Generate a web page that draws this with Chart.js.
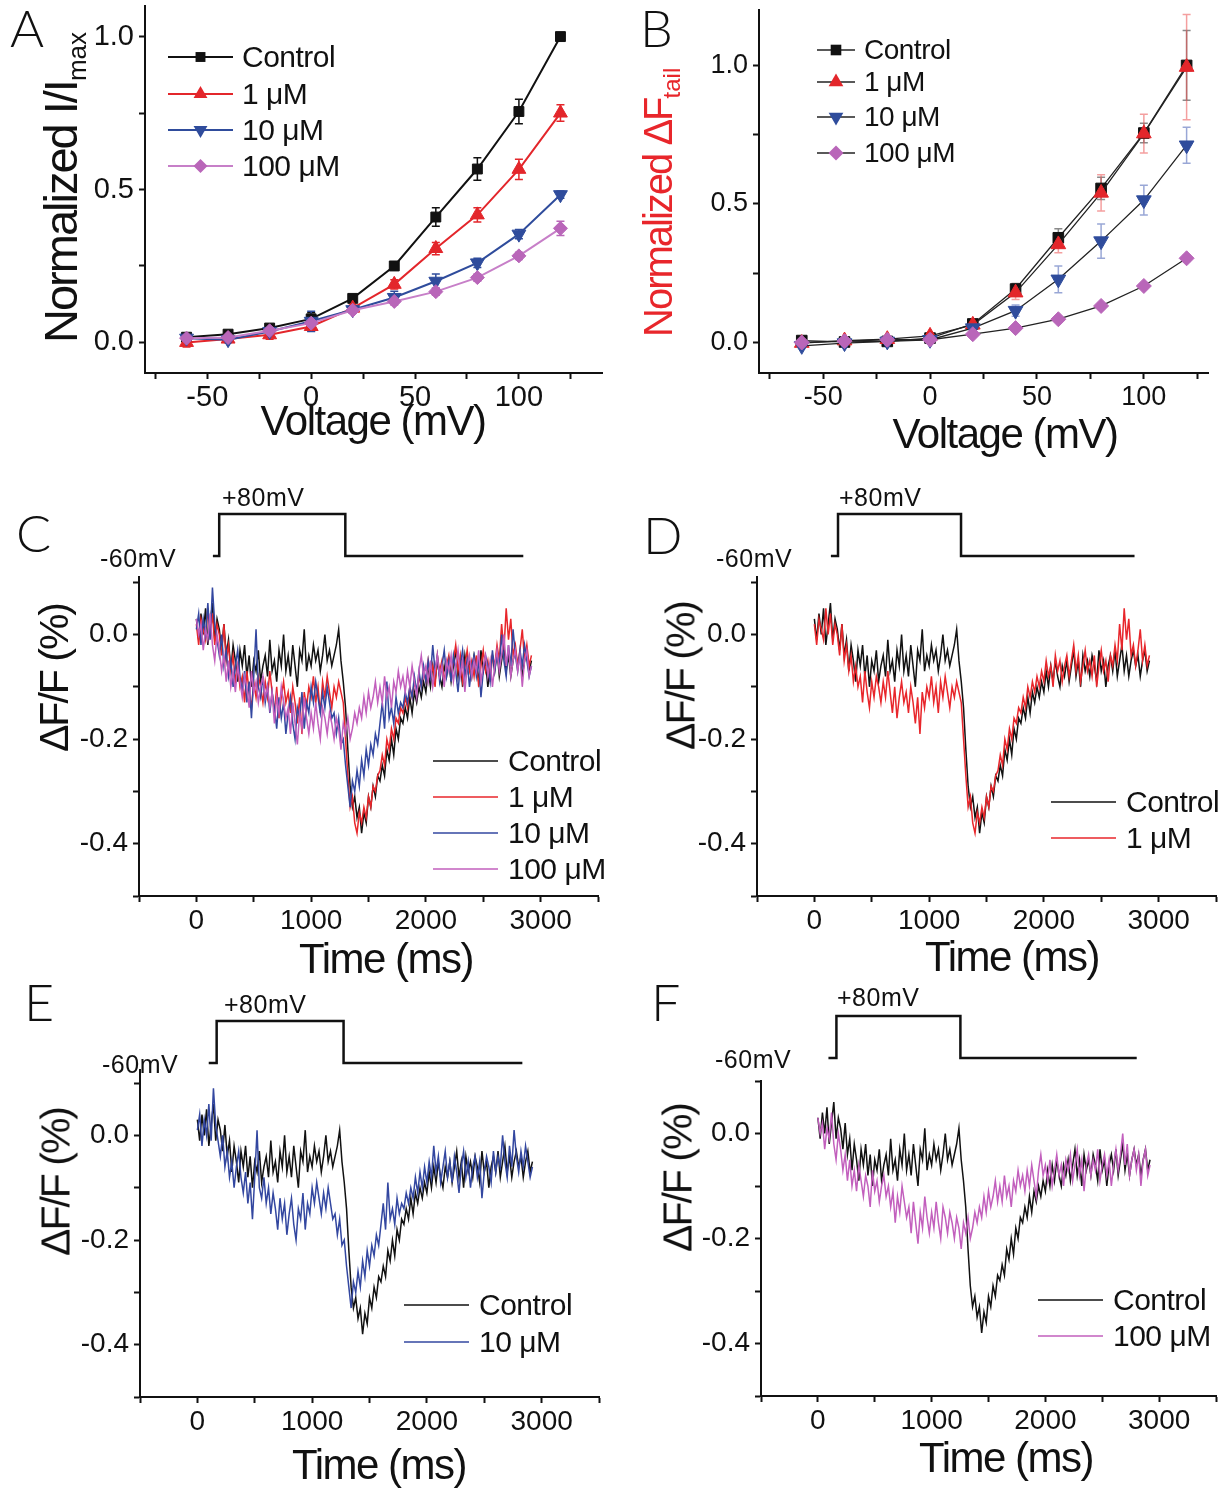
<!DOCTYPE html>
<html>
<head>
<meta charset="utf-8">
<script src="https://cdn.jsdelivr.net/npm/chart.js@4.4.1/dist/chart.umd.min.js"></script>
<style>
  body { margin: 0; background: #fff; }
  #fig { position: relative; width: 1224px; height: 1493px; overflow: hidden; background: #fff;
         font-family: "Liberation Sans", Arial, sans-serif; color: #111; }
  canvas { position: absolute; }
  .txt { position: absolute; white-space: nowrap; line-height: 1; z-index: 5; }
  .letter { font-family: Lato, "Liberation Sans", sans-serif; font-weight: 300; font-size: 52px; }
  .xt { font-size: 42px; letter-spacing: -1.5px; transform: translate(-50%, -50%); }
  .yt { font-size: 41px; letter-spacing: -2px; transform: translate(-50%, -50%) rotate(-90deg); }
  .ytA { font-size: 47px; letter-spacing: -2px; transform-origin: 0 0; transform: rotate(-90deg); }
  .proto { font-size: 25px; letter-spacing: 0.5px; }
  .row { position: absolute; display: flex; align-items: center; transform: translateY(-50%); z-index: 5; white-space: nowrap; }
  .row span { line-height: 1; letter-spacing: -0.5px; white-space: nowrap; }
</style>
</head>
<body>
<div id="fig">
  <canvas id="chartA"></canvas>
  <canvas id="chartB"></canvas>
  <canvas id="stepC"></canvas><canvas id="chartC"></canvas>
  <canvas id="stepD"></canvas><canvas id="chartD"></canvas>
  <canvas id="stepE"></canvas><canvas id="chartE"></canvas>
  <canvas id="stepF"></canvas><canvas id="chartF"></canvas>

  <div class="txt letter" style="left:10px;top:1px">A</div>
  <div class="txt letter" style="left:640px;top:1px">B</div>
  <div class="txt letter" style="left:16px;top:506px">C</div>
  <div class="txt letter" style="left:643px;top:508px">D</div>
  <div class="txt letter" style="left:24px;top:975px">E</div>
  <div class="txt letter" style="left:651px;top:975px">F</div>

  <div class="txt ytA" style="left:37px;top:343px">Normalized I/I<span style="font-size:26px;vertical-align:-0.35em;letter-spacing:0">max</span></div>
  <div class="txt ytA" style="left:638px;top:337px;font-size:40px;color:#e8262b">Normalized ΔF<span style="font-size:24px;vertical-align:-0.35em;letter-spacing:0">tail</span></div>
  <div class="txt xt" style="left:373px;top:421px">Voltage (mV)</div>
  <div class="txt xt" style="left:1005px;top:434px">Voltage (mV)</div>

  <div class="txt yt" style="left:54px;top:678px">ΔF/F (%)</div>
  <div class="txt yt" style="left:681px;top:676px">ΔF/F (%)</div>
  <div class="txt yt" style="left:56px;top:1182px">ΔF/F (%)</div>
  <div class="txt yt" style="left:678px;top:1178px">ΔF/F (%)</div>
  <div class="txt xt" style="left:386px;top:959px">Time (ms)</div>
  <div class="txt xt" style="left:1012px;top:957px">Time (ms)</div>
  <div class="txt xt" style="left:379px;top:1465px">Time (ms)</div>
  <div class="txt xt" style="left:1006px;top:1458px">Time (ms)</div>

  <div class="txt proto" style="left:222px;top:485px">+80mV</div>
  <div class="txt proto" style="left:100px;top:546px">-60mV</div>
  <div class="txt proto" style="left:839px;top:485px">+80mV</div>
  <div class="txt proto" style="left:716px;top:546px">-60mV</div>
  <div class="txt proto" style="left:224px;top:992px">+80mV</div>
  <div class="txt proto" style="left:102px;top:1052px">-60mV</div>
  <div class="txt proto" style="left:837px;top:985px">+80mV</div>
  <div class="txt proto" style="left:715px;top:1047px">-60mV</div>
</div>

<script>
// ---------- data ----------
const voltages = [-60, -40, -20, 0, 20, 40, 60, 80, 100, 120];
const seriesNames = ["Control", "1 μM", "10 μM", "100 μM"];

// A: normalized current
const currControl = [0.017, 0.027, 0.047, 0.077, 0.144, 0.25, 0.41, 0.567, 0.755, 1.0];
const curr1uM = [0.0, 0.011, 0.025, 0.052, 0.112, 0.19, 0.307, 0.417, 0.566, 0.75];
const curr10uM = [0.014, 0.009, 0.036, 0.069, 0.107, 0.147, 0.2, 0.26, 0.354, 0.483];
const curr100uM = [0.014, 0.016, 0.038, 0.063, 0.105, 0.134, 0.166, 0.212, 0.283, 0.373];
const currErrControl = [0.01, 0.01, 0.01, 0.02, 0.012, 0.012, 0.03, 0.037, 0.04, 0.0];
const currErr1uM = [0.015, 0.01, 0.015, 0.015, 0.01, 0.015, 0.02, 0.023, 0.033, 0.027];
const currErr10uM = [0.012, 0.01, 0.012, 0.033, 0.012, 0.02, 0.024, 0.015, 0.015, 0.012];
const currErr100uM = [0.01, 0.01, 0.012, 0.015, 0.01, 0.012, 0.012, 0.012, 0.012, 0.023];

// B: normalized tail fluorescence
const tailControl = [0.007, 0.002, 0.004, 0.016, 0.067, 0.193, 0.378, 0.556, 0.756, 1.0];
const tail1uM = [-0.002, 0.007, 0.012, 0.024, 0.064, 0.18, 0.354, 0.54, 0.754, 0.994];
const tail10uM = [-0.012, -0.002, 0.004, 0.01, 0.052, 0.115, 0.228, 0.366, 0.514, 0.712];
const tail100uM = [0.0, 0.005, 0.01, 0.01, 0.03, 0.052, 0.084, 0.132, 0.204, 0.304];
const tailErrControl = [0.01, 0.005, 0.005, 0.008, 0.012, 0.02, 0.033, 0.04, 0.035, 0.126];
const tailErr1uM = [0.008, 0.006, 0.008, 0.01, 0.015, 0.025, 0.03, 0.065, 0.07, 0.19];
const tailErr10uM = [0.01, 0.005, 0.005, 0.008, 0.012, 0.02, 0.048, 0.062, 0.054, 0.065];
const tailErr100uM = [0.005, 0.004, 0.004, 0.005, 0.008, 0.008, 0.01, 0.01, 0.01, 0.012];

// C-F: dF/F traces (%), one sample every 20 ms
const sampleMs = 20;
const traceControl = [
  0.03, -0.01, 0.04, 0.0, 0.05, -0.02, 0.02, 0.06, -0.01, 0.03,
  0.01, -0.03, 0.02, -0.04, -0.01, -0.07, -0.02, -0.05, -0.09, -0.03,
  -0.06, -0.02, -0.08, -0.04, -0.1, -0.05, -0.07, -0.03, -0.09, -0.06,
  -0.04, -0.08, -0.01, -0.07, -0.05, -0.09, -0.03, -0.06, 0.0, -0.07,
  -0.04, -0.08, -0.02, -0.06, -0.1, -0.03, -0.05, 0.01, -0.07, -0.04,
  -0.06, -0.02, -0.05, -0.03, -0.07, -0.04, 0.0, -0.05, -0.03, -0.06,
  -0.04, -0.02, 0.01, -0.05, -0.09, -0.14, -0.22, -0.29, -0.33, -0.31,
  -0.35, -0.33, -0.38, -0.34, -0.36, -0.31, -0.33, -0.29, -0.31, -0.27,
  -0.28, -0.25, -0.27, -0.22, -0.24, -0.2, -0.23, -0.18, -0.2, -0.16,
  -0.17, -0.14, -0.16, -0.12, -0.15, -0.11, -0.13, -0.1, -0.12, -0.09,
  -0.11, -0.07, -0.1, -0.06, -0.09, -0.05, -0.08, -0.1, -0.06, -0.08,
  -0.05, -0.09, -0.06, -0.03, -0.08, -0.05, -0.1, -0.04, -0.07, -0.05,
  -0.08, -0.04, -0.06, -0.09, -0.03, -0.07, -0.05, -0.1, -0.06, -0.04,
  -0.07, -0.03, -0.08, -0.05, -0.02, -0.07, -0.04, -0.08, -0.05, -0.03,
  -0.06, -0.04, -0.08, -0.05, -0.03, -0.07, -0.05
];
const trace1uM = [
  0.02, -0.02, 0.03, 0.01, -0.01, 0.05, 0.0, 0.04, -0.02, 0.02,
  0.0, -0.04, 0.02, -0.05, -0.02, -0.07, -0.04, -0.09, -0.06, -0.1,
  -0.08, -0.13, -0.07, -0.11, -0.14, -0.09, -0.12, -0.08, -0.1, -0.13,
  -0.09, -0.12, -0.07, -0.11, -0.15, -0.1, -0.16, -0.12, -0.09, -0.13,
  -0.11, -0.15, -0.1, -0.13, -0.17, -0.12, -0.19, -0.11, -0.14, -0.1,
  -0.12, -0.08, -0.13, -0.1, -0.15, -0.09, -0.12, -0.08, -0.11, -0.14,
  -0.1, -0.12, -0.09, -0.11, -0.13, -0.2, -0.27, -0.33, -0.31, -0.36,
  -0.38, -0.34, -0.36, -0.33, -0.35, -0.31, -0.33, -0.29, -0.3, -0.27,
  -0.26, -0.23, -0.25, -0.2, -0.22, -0.18, -0.2, -0.16, -0.17, -0.14,
  -0.15, -0.12, -0.14, -0.1, -0.12, -0.09, -0.11, -0.08, -0.1, -0.07,
  -0.09, -0.05, -0.08, -0.06, -0.1, -0.04, -0.07, -0.05, -0.09, -0.06,
  -0.04, -0.08, -0.05, -0.02, -0.07, -0.04, -0.09, -0.06, -0.03, -0.07,
  -0.05, -0.08, -0.04, -0.1, -0.06, -0.03, -0.07, -0.05, -0.09, -0.04,
  -0.06, -0.02, -0.05, 0.02, -0.03, 0.05, -0.01, 0.03, -0.04, -0.02,
  -0.06, -0.03, 0.01, -0.05, -0.02, -0.06, -0.04
];
const trace10uM = [
  0.01, 0.04, -0.02, 0.03, 0.0, 0.06, -0.01, 0.09, 0.02, -0.01,
  -0.04, 0.0, -0.06, -0.03, -0.08, -0.05, -0.1, -0.06, -0.03, -0.08,
  -0.11, -0.07, -0.13, -0.09, -0.16, -0.08, 0.01, -0.1, -0.12, -0.08,
  -0.13, -0.1, -0.15, -0.11, -0.14, -0.18, -0.12, -0.16, -0.13, -0.19,
  -0.15, -0.12, -0.17, -0.2, -0.14, -0.16, -0.11, -0.18, -0.13, -0.15,
  -0.1, -0.13, -0.09, -0.12, -0.15, -0.11, -0.14, -0.1, -0.13, -0.16,
  -0.15, -0.19, -0.16, -0.21, -0.2, -0.25, -0.29, -0.33, -0.28, -0.3,
  -0.26, -0.29, -0.24, -0.27, -0.22, -0.25, -0.21, -0.23, -0.19, -0.21,
  -0.17, -0.13, -0.18, -0.09, -0.16, -0.14, -0.17, -0.12, -0.15, -0.13,
  -0.14, -0.11, -0.13, -0.1, -0.12, -0.08, -0.11, -0.07, -0.1, -0.06,
  -0.09, -0.05, -0.08, -0.02, -0.07, -0.04, -0.09, -0.06, -0.03, -0.08,
  -0.05, -0.09, -0.04, -0.07, -0.11, -0.06, -0.03, -0.08, -0.05, -0.1,
  -0.06, -0.04, -0.08, -0.05, -0.12, -0.07, -0.04, -0.06, -0.09, -0.03,
  -0.07, -0.04, -0.06, 0.0, -0.05, -0.08, -0.02, -0.06, 0.01, -0.04,
  -0.07, -0.03, -0.06, -0.02, -0.05, -0.08, -0.06
];
const trace100uM = [
  0.03, 0.0, 0.02, -0.03, 0.01, -0.01, 0.04, -0.02, -0.05, 0.0,
  -0.03, -0.07, -0.04, -0.09, -0.05, -0.1, -0.07, -0.11, -0.06, -0.09,
  -0.12, -0.08, -0.1, -0.14, -0.07, -0.11, -0.09, -0.13, -0.1, -0.08,
  -0.12, -0.1, -0.14, -0.11, -0.17, -0.12, -0.15, -0.1, -0.13, -0.16,
  -0.14, -0.19, -0.13, -0.17, -0.21, -0.15, -0.18, -0.12, -0.16, -0.19,
  -0.15, -0.18, -0.13, -0.17, -0.2, -0.14, -0.16, -0.19, -0.15, -0.17,
  -0.2, -0.16, -0.18, -0.22, -0.17, -0.19, -0.16, -0.2, -0.18, -0.15,
  -0.17, -0.14, -0.16, -0.12, -0.15, -0.11, -0.14, -0.12, -0.09, -0.13,
  -0.1, -0.13, -0.08, -0.12, -0.1, -0.14, -0.09, -0.11, -0.07, -0.1,
  -0.08, -0.11, -0.07, -0.1, -0.06, -0.09, -0.12, -0.07, -0.04, -0.08,
  -0.06, -0.09, -0.05, -0.1, -0.07, -0.04, -0.08, -0.06, -0.1, -0.05,
  -0.07, -0.04, -0.09, -0.06, -0.03, -0.08, -0.05, -0.11, -0.06, -0.04,
  -0.08, -0.05, -0.07, -0.03, -0.09, -0.06, -0.04, -0.08, -0.05, -0.1,
  -0.06, -0.03, -0.07, -0.04, 0.0, -0.06, -0.02, -0.08, -0.05, -0.03,
  -0.07, -0.04, -0.1, -0.05, -0.03, -0.08, -0.06
];

// voltage step protocol (ms, mV)
const stepVolts = [-60, -60, 80, 80, -60, -60];
const stepTimesC = [144, 199, 199, 1298, 1298, 2849];
const stepTimesD = [144, 206, 206, 1278, 1278, 2790];
const stepTimesE = [99, 168, 168, 1274, 1274, 2832];
const stepTimesF = [93, 163, 163, 1253, 1253, 2803];

// ---------- styling ----------
const FONT = "'Liberation Sans', Arial, sans-serif";
const colBlack = "#111111";
const colRed = "#e3262b";
const colBlue = "#2f4c9c";
const colPink = "#b966b9";
const colPinkLine = "#c77fc8";

const YW = 90, XH = 60, PAD = 30;

function place(cv, area) {
  cv.width = area.right - area.left + YW + PAD;
  cv.height = area.bottom - area.top + PAD + XH;
  cv.style.left = (area.left - YW) + "px";
  cv.style.top = (area.top - PAD) + "px";
}

function isMajor(v, every) {
  const r = v / every;
  return Math.abs(r - Math.round(r)) < 1e-6;
}

// one decimal, no "-0.0"
function oneDec(v) {
  return (Math.abs(v) < 1e-9 ? 0 : v).toFixed(1);
}

function axis(min, max, step, every, fmt, size, pad, isX) {
  return {
    type: "linear", min: min, max: max,
    border: { display: true, color: colBlack, width: 2 },
    grid: { drawOnChartArea: false, drawTicks: true, tickLength: 6, tickWidth: 2, tickColor: colBlack },
    ticks: {
      stepSize: step, includeBounds: false, autoSkip: false, maxRotation: 0,
      color: colBlack, font: { family: FONT, size: size }, padding: pad,
      callback: v => isMajor(v, every) ? fmt(v) : ""
    },
    afterFit: s => { if (isX) s.height = XH; else s.width = YW; }
  };
}

// error bars drawn from each dataset's errors array
const errorBars = {
  id: "errorBars",
  beforeDatasetsDraw(chart) {
    const ctx = chart.ctx, x = chart.scales.x, y = chart.scales.y;
    chart.data.datasets.forEach(ds => {
      if (!ds.errors) return;
      ctx.save();
      ctx.strokeStyle = ds.errorColor;
      ctx.lineWidth = 1.5;
      ds.data.forEach((p, i) => {
        const e = ds.errors[i];
        if (!e) return;
        const px = x.getPixelForValue(p.x);
        const t = y.getPixelForValue(p.y + e), b = y.getPixelForValue(p.y - e);
        ctx.beginPath();
        ctx.moveTo(px, t); ctx.lineTo(px, b);
        ctx.moveTo(px - 4, t); ctx.lineTo(px + 4, t);
        ctx.moveTo(px - 4, b); ctx.lineTo(px + 4, b);
        ctx.stroke();
      });
      ctx.restore();
    });
  }
};

const baseOpts = {
  animation: false, responsive: false, devicePixelRatio: 1,
  plugins: { legend: { display: false }, tooltip: { enabled: false } },
  layout: { padding: { top: PAD, right: PAD, left: 0, bottom: 0 } }
};

// ---------- A and B ----------
const markers = [
  { style: "rect", rot: 0 },
  { style: "triangle", rot: 0 },
  { style: "triangle", rot: 180 },
  { style: "rectRot", rot: 0 }
];

function ivChart(id, area, yMin, yMax, series, lineColors, markerColors, errColors, sizes, lw, tickSize) {
  const cv = document.getElementById(id);
  place(cv, area);
  new Chart(cv, {
    type: "line",
    data: {
      datasets: series.map((s, k) => ({
        label: seriesNames[k],
        data: voltages.map((v, i) => ({ x: v, y: s.vals[i] })),
        errors: s.errs,
        errorColor: errColors[k],
        borderColor: lineColors[k],
        borderWidth: lw,
        pointStyle: markers[k].style,
        rotation: markers[k].rot,
        pointRadius: sizes[k],
        pointBackgroundColor: markerColors[k],
        pointBorderColor: markerColors[k],
        pointBorderWidth: 1,
        order: series.length - k
      }))
    },
    options: Object.assign({}, baseOpts, {
      scales: {
        x: axis(-80, area.xMax, 25, 50, v => String(v), tickSize, 2, true),
        y: axis(yMin, yMax, 0.25, 0.5, oneDec, tickSize, 5, false)
      }
    }),
    plugins: [errorBars]
  });
}

ivChart("chartA", { left: 145, top: 6, right: 602, bottom: 373, xMax: 140 }, -0.1, 1.1,
  [{ vals: currControl, errs: currErrControl }, { vals: curr1uM, errs: currErr1uM },
   { vals: curr10uM, errs: currErr10uM }, { vals: curr100uM, errs: currErr100uM }],
  [colBlack, colRed, colBlue, colPinkLine], [colBlack, colRed, colBlue, colPink],
  [colBlack, colRed, colBlue, colPink], [7, 8, 8, 7], 2, 29);

ivChart("chartB", { left: 759, top: 10, right: 1208, bottom: 373, xMax: 130 }, -0.11, 1.2,
  [{ vals: tailControl, errs: tailErrControl }, { vals: tail1uM, errs: tailErr1uM },
   { vals: tail10uM, errs: tailErr10uM }, { vals: tail100uM, errs: tailErr100uM }],
  ["#222", "#222", "#222", "#222"], [colBlack, colRed, colBlue, colPink],
  ["rgba(60,60,60,0.6)", "rgba(235,80,80,0.55)", "rgba(70,95,180,0.55)", "rgba(185,100,185,0.5)"],
  [7.5, 8.5, 8.5, 7.5], 1.3, 27);

// ---------- C-F ----------
const traceCols = [colBlack, "#e8262b", "#3347a0", "#c25fbd"];
const traceData = [traceControl, trace1uM, trace10uM, trace100uM];

function traceChart(id, area, yMax, which) {
  const cv = document.getElementById(id);
  place(cv, area);
  new Chart(cv, {
    type: "line",
    data: {
      datasets: which.map((w, k) => ({
        label: seriesNames[w],
        data: traceData[w].map((v, i) => ({ x: i * sampleMs, y: v })),
        borderColor: traceCols[w],
        borderWidth: 1.5,
        pointRadius: 0,
        order: which.length - k
      }))
    },
    options: Object.assign({}, baseOpts, {
      scales: {
        x: axis(-500, 3500, 500, 1000, v => String(v), 28, 2, true),
        y: axis(-0.5, yMax, 0.1, 0.2, oneDec, 28, 5, false)
      }
    })
  });
}

function stepChart(id, area, top, base, times) {
  const cv = document.getElementById(id);
  const p = 4;
  cv.width = area.right - area.left + 2 * p;
  cv.height = base - top + 2 * p;
  cv.style.left = (area.left - p) + "px";
  cv.style.top = (top - p) + "px";
  new Chart(cv, {
    type: "line",
    data: { datasets: [{ data: times.map((t, i) => ({ x: t, y: stepVolts[i] })), borderColor: colBlack, borderWidth: 2.5, pointRadius: 0, clip: false }] },
    options: {
      animation: false, responsive: false, devicePixelRatio: 1,
      layout: { padding: p },
      plugins: { legend: { display: false }, tooltip: { enabled: false } },
      scales: { x: { type: "linear", display: false, min: -500, max: 3500 }, y: { type: "linear", display: false, min: -60, max: 80 } }
    }
  });
}

const areaC = { left: 139, top: 577, right: 598, bottom: 896 };
const areaD = { left: 757, top: 577, right: 1216, bottom: 896 };
const areaE = { left: 140, top: 1070, right: 599, bottom: 1397 };
const areaF = { left: 761, top: 1081, right: 1216, bottom: 1396 };

traceChart("chartC", areaC, 0.11, [0, 1, 2, 3]);
traceChart("chartD", areaD, 0.11, [0, 1]);
traceChart("chartE", areaE, 0.125, [0, 2]);
traceChart("chartF", areaF, 0.1, [0, 3]);

stepChart("stepC", areaC, 514, 556, stepTimesC);
stepChart("stepD", areaD, 514, 556, stepTimesD);
stepChart("stepE", areaE, 1021, 1063, stepTimesE);
stepChart("stepF", areaF, 1016, 1058, stepTimesF);

// ---------- legends ----------
function markerSvg(kind, color, r) {
  const c = 12;
  if (kind === 0) { const h = r * Math.SQRT1_2; return `<rect x="${c - h}" y="${c - h}" width="${2 * h}" height="${2 * h}" fill="${color}"/>`; }
  if (kind === 1) return `<polygon points="${c},${c - r} ${c + r * 0.866},${c + r / 2} ${c - r * 0.866},${c + r / 2}" fill="${color}"/>`;
  if (kind === 2) return `<polygon points="${c},${c + r} ${c + r * 0.866},${c - r / 2} ${c - r * 0.866},${c - r / 2}" fill="${color}"/>`;
  return `<polygon points="${c},${c - r} ${c + r},${c} ${c},${c + r} ${c - r},${c}" fill="${color}"/>`;
}

function legend(x, rows, len, gap, size, items) {
  const fig = document.getElementById("fig");
  items.forEach((it, k) => {
    const d = document.createElement("div");
    d.className = "row";
    d.style.left = x + "px";
    d.style.top = rows[k] + "px";
    let svg = `<svg width="${len}" height="24" style="display:block;flex:none"><line x1="0" y1="12" x2="${len}" y2="12" stroke="${it.line}" stroke-width="${it.lw}"/>`;
    if (it.kind !== undefined) {
      svg += `<g transform="translate(${len / 2 - 12},0)">${markerSvg(it.kind, it.mark, it.r)}</g>`;
    }
    svg += "</svg>";
    d.innerHTML = svg + `<span style="font-size:${size}px;margin-left:${gap}px">${it.name}</span>`;
    fig.appendChild(d);
  });
}

legend(168, [57, 94, 130, 166], 65, 9, 30, [
  { name: seriesNames[0], line: colBlack, lw: 2, kind: 0, mark: colBlack, r: 7 },
  { name: seriesNames[1], line: colRed, lw: 2, kind: 1, mark: colRed, r: 8 },
  { name: seriesNames[2], line: colBlue, lw: 2, kind: 2, mark: colBlue, r: 8 },
  { name: seriesNames[3], line: colPinkLine, lw: 2, kind: 3, mark: colPink, r: 7 }
]);
legend(817, [50, 82, 117, 153], 38, 9, 28, [
  { name: seriesNames[0], line: "#222", lw: 1.5, kind: 0, mark: colBlack, r: 7.5 },
  { name: seriesNames[1], line: "#222", lw: 1.5, kind: 1, mark: colRed, r: 8.5 },
  { name: seriesNames[2], line: "#222", lw: 1.5, kind: 2, mark: colBlue, r: 8.5 },
  { name: seriesNames[3], line: "#222", lw: 1.5, kind: 3, mark: colPink, r: 7.5 }
]);

function traceLegend(x, rows, which) {
  legend(x, rows, 65, 10, 30, which.map(w => ({ name: seriesNames[w], line: traceCols[w], lw: 1.5 })));
}
traceLegend(433, [761, 797, 833, 869], [0, 1, 2, 3]);
traceLegend(1051, [802, 838], [0, 1]);
traceLegend(404, [1305, 1342], [0, 2]);
traceLegend(1038, [1300, 1336], [0, 3]);
</script>
</body>
</html>
